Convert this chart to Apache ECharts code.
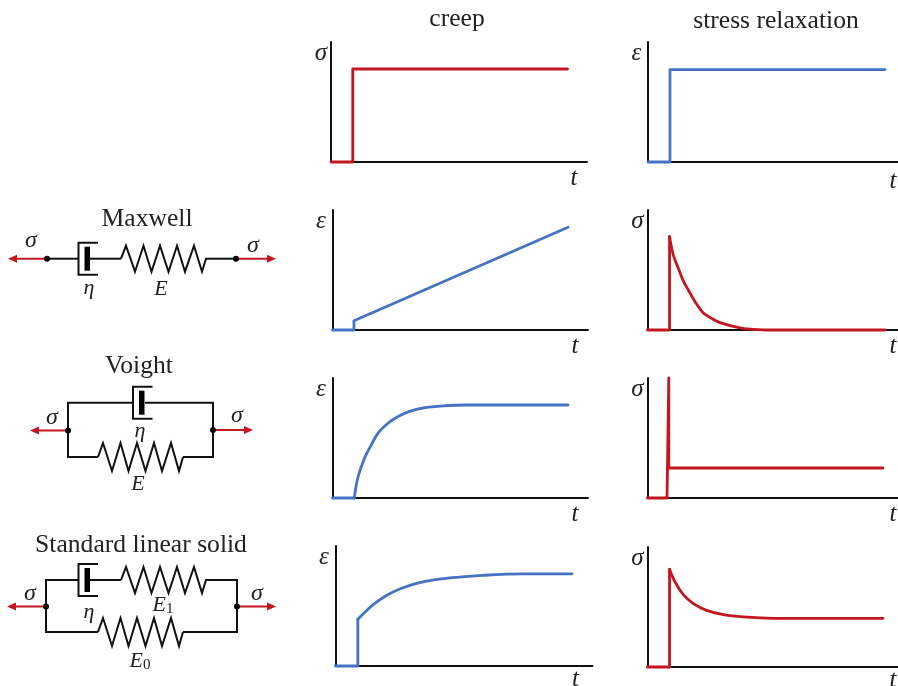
<!DOCTYPE html>
<html>
<head>
<meta charset="utf-8">
<style>html,body{margin:0;padding:0;background:#fff}#chart{width:898px;height:686px}</style>
<script src="https://cdn.jsdelivr.net/npm/echarts@6/dist/echarts.min.js"></script>
</head>
<body>
<div id="chart"></div>
<script>
// Time and response values, both on a 0-100 axis
const creepInputT = [0, 8.5, 8.5, 92.4];
const creepInputV = [0, 0, 77.5, 77.5];
const relaxInputT = [0, 8.8, 8.8, 94.8];
const relaxInputV = [0, 0, 77, 77];
const maxwellCreepT = [0, 8.4, 8.4, 92.2];
const maxwellCreepV = [0, 0, 7.7, 85.6];
const maxwellRelaxT = [0, 8.8, 8.8, 10.3, 12.3, 14.3, 16.3, 19, 22.2, 25.6, 29, 36.9, 42.2, 48.9, 94.8];
const maxwellRelaxV = [0, 0, 77.8, 62.5, 51.4, 41, 33.3, 23.6, 14.4, 9.7, 6.1, 1.7, 0.6, 0, 0];
const voightCreepT = [0, 8.5, 10, 12.6, 15.3, 17.9, 21.8, 25.7, 30.2, 35.5, 43.3, 52.4, 92.2];
const voightCreepV = [0, 0, 17.5, 33.6, 44.7, 54.2, 62.5, 68, 72.2, 75, 76.7, 77.5, 77.5];
const voightRelaxT = [0, 7.8, 8.5, 8.5, 94];
const voightRelaxV = [0, 0, 100, 25, 25];
const slsCreepT = [0, 8.7, 8.7, 11.5, 14.8, 20, 25.2, 31.6, 38.8, 47.2, 57.6, 73.2, 92];
const slsCreepV = [0, 0, 38.9, 45, 51.4, 58.9, 64.4, 68.9, 71.9, 73.9, 75.6, 76.7, 76.7];
const slsRelaxT = [0, 8.8, 8.8, 11, 14.3, 18.3, 23.6, 30.3, 38.2, 50.2, 94];
const slsRelaxV = [0, 0, 81.4, 70.8, 60.3, 52.8, 47.2, 43.6, 41.7, 40.6, 40.6];

const columnTitles = ['creep', 'stress relaxation'];
const modelNames = ['Maxwell', 'Voight', 'Standard linear solid'];
const sigma = 'σ', epsilon = 'ε', timeLabel = 't', eta = 'η';

const RED = '#c3161f', BLUE = '#4472c4', INK = '#111';
const SERIF = '"Liberation Serif","Times New Roman",serif';

// bend: index of the point where a curved stretch begins (null when the trace is all straight)
const panels = [
  {g:[331,42,256,120],      t:creepInputT,   v:creepInputV,   c:RED,  y:sigma,   tGap:-13, tPad:4, bend:null},
  {g:[648,42,250,120],      t:relaxInputT,   v:relaxInputV,   c:BLUE, y:epsilon, tGap:-5,  tPad:7, bend:null},
  {g:[332.5,210,255.5,120], t:maxwellCreepT, v:maxwellCreepV, c:BLUE, y:epsilon, tGap:-13, tPad:4, bend:null},
  {g:[647.5,210,250.5,120], t:maxwellRelaxT, v:maxwellRelaxV, c:RED,  y:sigma,   tGap:-5,  tPad:4, bend:2},
  {g:[332.5,378,255.5,120], t:voightCreepT,  v:voightCreepV,  c:BLUE, y:epsilon, tGap:-13, tPad:4, bend:1},
  {g:[647.5,378,250.5,120], t:voightRelaxT,  v:voightRelaxV,  c:RED,  y:sigma,   tGap:-5,  tPad:4, bend:null},
  {g:[335.5,546,257,120],   t:slsCreepT,     v:slsCreepV,     c:BLUE, y:epsilon, tGap:-17, tPad:1, bend:2},
  {g:[647.5,547,250.5,120], t:slsRelaxT,     v:slsRelaxV,     c:RED,  y:sigma,   tGap:-5,  tPad:1, bend:2}
];

const axisLine = {show:true, onZero:false, lineStyle:{color:INK, width:2}};
const nameFont = {fontFamily:SERIF, fontStyle:'italic', fontSize:25, color:'#222'};

const grid = panels.map(p => ({left:p.g[0], top:p.g[1], width:p.g[2], height:p.g[3], containLabel:false, outerBoundsMode:'none'}));
const xAxis = panels.map((p,i) => ({
  type:'value', gridIndex:i, min:0, max:100, axisLine, axisTick:{show:false}, axisLabel:{show:false}, splitLine:{show:false},
  name:timeLabel, nameLocation:'end', nameGap:p.tGap, nameMoveOverlap:false,
  nameTextStyle:Object.assign({}, nameFont, {align:'center', verticalAlign:'top', padding:[p.tPad,0,0,0]})
}));
const yAxis = panels.map((p,i) => ({
  type:'value', gridIndex:i, min:0, max:100, axisLine, axisTick:{show:false}, axisLabel:{show:false}, splitLine:{show:false},
  name:p.y, nameLocation:'end', nameGap:-11, nameMoveOverlap:false,
  nameTextStyle:Object.assign({}, nameFont, {align:'center', verticalAlign:'middle', padding:[0,p.y===sigma?20:23,0,0]})
}));
function trace(p, i, from, to, smooth){
  return {type:'line', xAxisIndex:i, yAxisIndex:i, symbol:'none', clip:false, silent:true, smooth,
    lineStyle:{color:p.c, width:2.8, join:'round', cap:'round'},
    data:p.t.slice(from,to).map((x,k) => [x, p.v[from+k]])};
}
const series = panels.flatMap((p,i) => p.bend===null
  ? [trace(p,i,0,p.t.length,false)]
  : [trace(p,i,0,p.bend+1,false), trace(p,i,p.bend,p.t.length,0.35)]);

// Schematic drawing helpers (mechanical models are not data marks)
const gfx = [];
const stroke = {stroke:'#111', lineWidth:2, fill:null, lineJoin:'miter'};
function wire(pts){ gfx.push({type:'polyline', silent:true, shape:{points:pts}, style:stroke}); }
function dashpot(x, yc){
  gfx.push({type:'polyline', silent:true, shape:{points:[[x+19.5,yc-16],[x,yc-16],[x,yc+16],[x+19.5,yc+16]]}, style:stroke});
  gfx.push({type:'rect', silent:true, shape:{x:x+6, y:yc-12, width:5.5, height:24}, style:{fill:'#000'}});
}
function spring(x0, y, half){
  const xs = [0,5,14,22.5,30.5,39,47.5,56,64,73,81,85];
  wire(xs.map((dx,i) => [x0+dx, (i===0||i===xs.length-1) ? y : y + (i%2 ? -half : half)]));
}
function dot(x,y){ gfx.push({type:'circle', silent:true, z:5, shape:{cx:x, cy:y, r:3}, style:{fill:'#000'}}); }
function arrow(x0, x1, y){
  const d = x1>x0 ? 1 : -1;
  gfx.push({type:'line', silent:true, shape:{x1:x0, y1:y, x2:x1-d*6, y2:y}, style:{stroke:RED, lineWidth:2}});
  gfx.push({type:'polygon', silent:true, shape:{points:[[x1,y],[x1-d*9,y-4],[x1-d*9,y+4]]}, style:{fill:RED}});
}
function label(txt, x, y, size){
  gfx.push({type:'text', silent:true, x, y, style:{text:txt, fontFamily:SERIF, fontStyle:'italic', fontSize:size||24, fill:'#222', align:'center', verticalAlign:'middle'}});
}
function subLabel(base, sub, x, y){
  gfx.push({type:'text', silent:true, x, y, style:{
    text:'{a|'+base+'}{b|'+sub+'}', align:'center', verticalAlign:'middle',
    rich:{a:{fontFamily:SERIF, fontStyle:'italic', fontSize:22, fill:'#222'},
          b:{fontFamily:SERIF, fontSize:15, fill:'#222', verticalAlign:'bottom', padding:[8,0,0,0]}}
  }});
}

// Maxwell
wire([[47,258.7],[78,258.7]]); dashpot(78.5,258.7); wire([[90,258.7],[121,258.7]]);
spring(121,258.7,13); wire([[205,258.7],[236,258.7]]);
arrow(47,8,258.7); arrow(236,276,258.7); dot(47,258.7); dot(236,258.7);
label(sigma,31,241); label(sigma,253,246); label(eta,89,288,22); label('E',161,289,22);

// Voight
wire([[68,430],[68,402.7],[133,402.7]]); dashpot(133,402.7); wire([[145,402.7],[213,402.7],[213,430]]);
wire([[68,430],[68,457],[98,457]]); spring(98,457,14); wire([[183,457],[213,457],[213,430]]);
arrow(68,30,430.5); arrow(213,253,430); dot(68,430.5); dot(213,430);
label(sigma,52,418); label(sigma,237,416); label(eta,140,431,22); label('E',138,484,22);

// Standard linear solid
wire([[46,606],[46,580],[78.5,580]]); dashpot(78.5,580); wire([[90,580],[121,580]]);
spring(121,580,13); wire([[205,580],[237,580],[237,606]]);
wire([[46,606],[46,632],[98,632]]); spring(98,632,14); wire([[183,632],[237,632],[237,606]]);
arrow(46,7,606.5); arrow(237,276,606.5); dot(46,606.5); dot(237,606.5);
label(sigma,30,594); label(sigma,257,594); label(eta,89,612,22);
subLabel('E','1',163,605); subLabel('E','0',140,661);

function heading(text, x, y){
  return {text, left:x, top:y, textAlign:'center', textVerticalAlign:'middle', padding:0,
    textStyle:{fontFamily:SERIF, fontWeight:'normal', fontSize:25.6, color:'#222'}};
}
const title = [
  heading(columnTitles[0],457,19), heading(columnTitles[1],776,21),
  heading(modelNames[0],147,219), heading(modelNames[1],139,366), heading(modelNames[2],141,545)
];

const chart = echarts.init(document.getElementById('chart'));
chart.setOption({animation:false, backgroundColor:'#fff', title, grid, xAxis, yAxis, series, graphic:{elements:gfx}});
</script>
</body>
</html>
